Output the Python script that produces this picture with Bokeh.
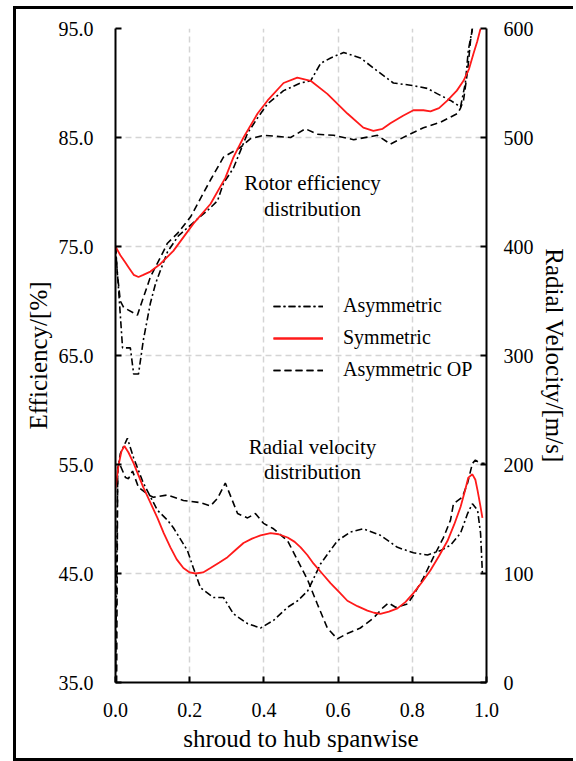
from bokeh.plotting import figure
from bokeh.models import (Range1d, LinearAxis, FixedTicker, PrintfTickFormatter,
                          Legend, LegendItem, Label)
from bokeh.embed import file_html
from bokeh.resources import INLINE

# ---- rotor efficiency along the span (left axis, %) ----
eff_sym_x = [0.0, 0.013, 0.027, 0.035, 0.049, 0.062, 0.075, 0.094, 0.121, 0.156, 0.21, 0.256,
             0.296, 0.318, 0.345, 0.383, 0.41, 0.453, 0.49, 0.526, 0.571, 0.625, 0.668, 0.695,
             0.72, 0.741, 0.775, 0.803, 0.83, 0.849, 0.872, 0.895, 0.92, 0.938, 0.953, 0.965,
             0.975, 0.984]
eff_sym = [75.0, 74.2, 73.5, 73.1, 72.4, 72.2, 72.4, 72.7, 73.4, 74.6, 77.1, 78.9,
           81.3, 83.2, 85.0, 87.2, 88.4, 90.0, 90.5, 90.2, 89.0, 87.2, 85.9, 85.6,
           85.8, 86.3, 87.0, 87.5, 87.5, 87.4, 87.7, 88.4, 89.3, 90.2, 91.3, 92.7,
           93.8, 95.0]

eff_asym_x = [0.0, 0.008, 0.019, 0.04, 0.049, 0.062, 0.075, 0.094, 0.108, 0.121, 0.14, 0.17,
              0.21, 0.248, 0.275, 0.291, 0.318, 0.337, 0.356, 0.383, 0.41, 0.453, 0.499,
              0.526, 0.553, 0.58, 0.615, 0.66, 0.706, 0.749, 0.795, 0.841, 0.868, 0.903,
              0.93, 0.943, 0.951, 0.962]
eff_asym = [75.0, 71.2, 65.7, 65.7, 63.3, 63.3, 66.4, 69.8, 71.6, 72.8, 74.5, 76.0,
            77.2, 78.3, 79.2, 80.8, 82.2, 83.8, 85.4, 86.8, 88.1, 89.3, 90.0,
            90.2, 91.8, 92.3, 92.8, 92.3, 91.1, 90.0, 89.8, 89.5, 89.0, 88.4,
            87.8, 90.0, 93.0, 95.0]

eff_op_x = [0.0, 0.005, 0.013, 0.022, 0.049, 0.059, 0.075, 0.094, 0.121, 0.14, 0.167, 0.202,
            0.256, 0.291, 0.337, 0.364, 0.399, 0.472, 0.512, 0.544, 0.588, 0.642, 0.706,
            0.741, 0.787, 0.83, 0.876, 0.922, 0.93, 0.938, 0.949, 0.957, 0.962]
eff_op = [75.0, 72.5, 70.0, 69.4, 68.9, 68.7, 70.3, 72.2, 74.0, 75.3, 76.2, 77.7,
          81.1, 83.2, 84.1, 84.9, 85.2, 85.0, 85.8, 85.3, 85.2, 84.8, 85.2,
          84.4, 85.2, 85.9, 86.4, 87.2, 87.7, 88.4, 91.1, 93.9, 95.0]

# ---- radial velocity along the span (right axis, m/s) ----
vel_sym_x = [0.0, 0.008, 0.016, 0.024, 0.035, 0.049, 0.062, 0.075, 0.094, 0.113, 0.13, 0.148,
             0.165, 0.183, 0.2, 0.216, 0.236, 0.256, 0.28, 0.302, 0.325, 0.345, 0.368, 0.391,
             0.418, 0.44, 0.464, 0.483, 0.499, 0.517, 0.534, 0.557, 0.58, 0.603, 0.625, 0.652,
             0.679, 0.697, 0.714, 0.737, 0.76, 0.782, 0.803, 0.826, 0.849, 0.872, 0.895, 0.913,
             0.93, 0.942, 0.951, 0.962, 0.97, 0.976, 0.983, 0.989]
vel_sym = [178, 199, 212, 217, 211, 201, 190, 179, 165, 151, 137, 124,
           113, 105, 101, 100, 101, 105, 110, 115, 122, 128, 132, 135,
           137, 136, 133, 129, 124, 117, 109, 100, 91, 83, 75, 70,
           66, 64, 63, 65, 68, 74, 82, 92, 103, 116, 130, 145,
           161, 176, 188, 191, 186, 176, 163, 151]

vel_asym_x = [0.0, 0.006, 0.013, 0.032, 0.049, 0.075, 0.113, 0.14, 0.156, 0.194, 0.21, 0.229,
              0.264, 0.291, 0.318, 0.356, 0.391, 0.426, 0.464, 0.491, 0.518, 0.553, 0.598,
              0.633, 0.668, 0.714, 0.76, 0.803, 0.841, 0.876, 0.903, 0.93, 0.949, 0.962,
              0.976, 0.984, 0.989]
vel_asym = [0, 195, 210, 224, 206, 183, 158, 149, 142, 121, 105, 87,
            78, 78, 63, 54, 50, 57, 69, 75, 84, 109, 130,
            138, 141, 135, 124, 119, 117, 121, 126, 137, 155, 164,
            158, 137, 100]

vel_op_x = [0.003, 0.006, 0.013, 0.027, 0.035, 0.046, 0.062, 0.089, 0.102, 0.14, 0.183, 0.229,
            0.256, 0.275, 0.296, 0.315, 0.329, 0.356, 0.377, 0.399, 0.426, 0.464, 0.491,
            0.518, 0.544, 0.571, 0.598, 0.625, 0.66, 0.695, 0.722, 0.736, 0.755, 0.787,
            0.803, 0.83, 0.857, 0.884, 0.903, 0.911, 0.935, 0.949, 0.962, 0.97, 0.984, 0.995]
vel_op = [0, 199, 199, 188, 187, 194, 179, 172, 170, 172, 167, 165,
          162, 169, 183, 167, 155, 151, 155, 146, 141, 130, 112,
          94, 72, 50, 40, 45, 50, 59, 69, 73, 69, 72,
          80, 96, 115, 133, 149, 164, 170, 183, 201, 204, 201, 201]

x_ticks = [0.0, 0.2, 0.4, 0.6, 0.8, 1.0]
eff_ticks = [35, 45, 55, 65, 75, 85, 95]
vel_ticks = [0, 100, 200, 300, 400, 500, 600]

SERIF = "Liberation Serif"
GRID = "#d4d4d4"

# canvas sits inside a black page frame drawn with CSS borders
p = figure(width=560, height=755, output_backend="svg", toolbar_location=None,
           x_range=Range1d(0, 1), y_range=Range1d(35, 95),
           min_border_left=99, min_border_right=90, min_border_top=19, min_border_bottom=82,
           background_fill_color="white", border_fill_color="white",
           margin=(6, 0, 0, 13))
p.styles = {"border-left": "3px solid black", "border-top": "3px solid black",
            "border-bottom": "3px solid black"}
p.outline_line_color = None
p.extra_y_ranges = {"vel": Range1d(0, 600)}

# axes: ticks pointing into the plot area
def style_axis(ax, fmt):
    ax.formatter = PrintfTickFormatter(format=fmt)
    ax.major_tick_in = 6
    ax.major_tick_out = 0
    ax.minor_tick_line_color = None
    ax.axis_line_width = 2
    ax.major_tick_line_width = 2
    ax.axis_line_color = "black"
    ax.major_tick_line_color = "black"
    ax.major_label_text_font = SERIF
    ax.major_label_text_font_size = "20px"
    ax.major_label_text_color = "black"
    ax.axis_label_text_font = SERIF
    ax.axis_label_text_font_size = "25px"
    ax.axis_label_text_font_style = "normal"
    ax.axis_label_text_color = "black"

xa = p.xaxis[0]
xa.ticker = FixedTicker(ticks=x_ticks)
style_axis(xa, "%.1f")
xa.axis_label = "shroud to hub spanwise"
xa.major_label_standoff = 20
xa.axis_label_standoff = 5

ya = p.yaxis[0]
ya.ticker = FixedTicker(ticks=eff_ticks)
style_axis(ya, "%.1f")
ya.axis_label = "Efficiency/[%]"
ya.major_label_standoff = 22
ya.axis_label_standoff = 4

ra = LinearAxis(y_range_name="vel", ticker=FixedTicker(ticks=vel_ticks))
style_axis(ra, "%d")
ra.axis_label = "Radial Velocity/[m/s]"
ra.major_label_standoff = 17
ra.axis_label_standoff = 4
p.add_layout(ra, "right")

# dashed light grid
p.xgrid.ticker = FixedTicker(ticks=[0.2, 0.4, 0.6, 0.8])
p.ygrid.ticker = FixedTicker(ticks=[45, 55, 65, 75, 85, 95])
for g in (p.xgrid[0], p.ygrid[0]):
    g.grid_line_color = GRID
    g.grid_line_dash = "6 4"
    g.grid_line_width = 1.5

DASHDOT = "7 3 2 3"
DASHED = "7 4"

r_ea = p.line(eff_asym_x, eff_asym, line_color="black", line_width=1.6, line_dash=DASHDOT)
r_va = p.line(vel_asym_x, vel_asym, line_color="black", line_width=1.6, line_dash=DASHDOT,
              y_range_name="vel")
r_eo = p.line(eff_op_x, eff_op, line_color="black", line_width=1.6, line_dash=DASHED)
r_vo = p.line(vel_op_x, vel_op, line_color="black", line_width=1.6, line_dash=DASHED,
              y_range_name="vel")
r_es = p.line(eff_sym_x, eff_sym, line_color="#ff1a1a", line_width=1.8)
r_vs = p.line(vel_sym_x, vel_sym, line_color="#ff1a1a", line_width=1.8, y_range_name="vel")

legend = Legend(items=[
    LegendItem(label="Asymmetric", renderers=[r_ea, r_va]),
    LegendItem(label="Symmetric", renderers=[r_es, r_vs]),
    LegendItem(label="Asymmetric OP", renderers=[r_eo, r_vo]),
], location=(158, 301))
legend.border_line_color = None
legend.background_fill_alpha = 0
legend.padding = 0
legend.margin = 0
legend.spacing = 9
legend.glyph_width = 50
legend.glyph_height = 20
legend.label_height = 20
legend.label_standoff = 20
legend.label_text_font = SERIF
legend.label_text_font_size = "20px"
legend.label_text_color = "black"
p.add_layout(legend, "center")

# in-plot captions
for txt, yv in (("Rotor efficiency", 80.8), ("distribution", 78.4),
                ("Radial velocity", 56.6), ("distribution", 54.3)):
    p.add_layout(Label(x=0.531, y=yv, text=txt, text_align="center", text_baseline="middle",
                       text_font=SERIF, text_font_size="21px", text_color="black"))

open("out.html", "w").write(file_html(p, INLINE))
